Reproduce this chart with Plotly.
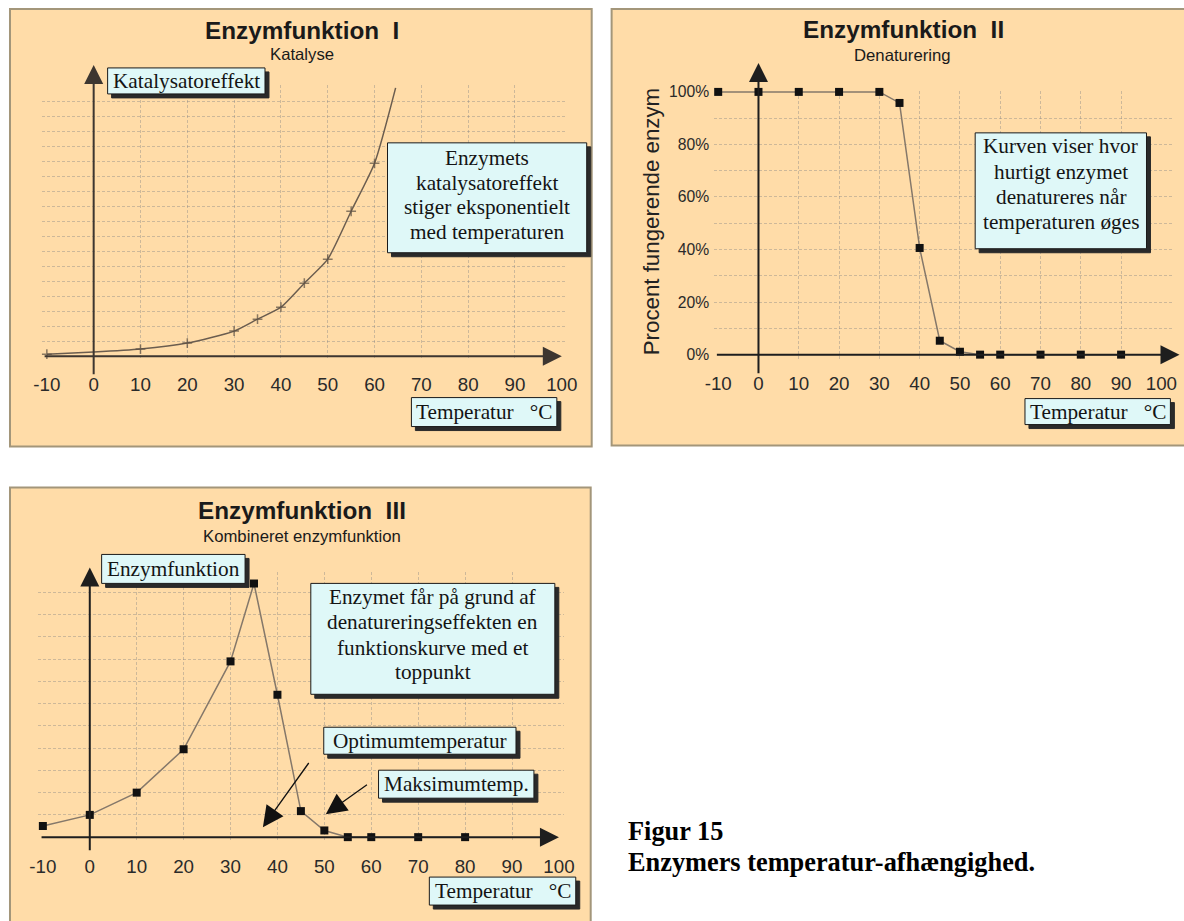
import plotly.graph_objects as go

W, H = 1184, 921

# ---------------- data ----------------
x_ticks = [-10, 0, 10, 20, 30, 40, 50, 60, 70, 80, 90, 100]
x_ticktext = ["-10", "0", "10", "20", "30", "40", "50", "60", "70", "80", "90", "100"]
x_grid = [10, 20, 30, 40, 50, 60, 70, 80, 90]

# Panel I – Katalyse (relative units)
temp_kat = [-10, 0, 10, 20, 30, 35, 40, 45, 50, 55, 60, 64.5]
katalyse = [0.13, 0.27, 0.47, 0.87, 1.67, 2.47, 3.27, 4.87, 6.47, 9.67, 12.87, 17.9]
kat_marker = [7, 0, 7, 7, 7, 7, 7, 7, 7, 7, 7, 0]
kat_grid = list(range(1, 18))

# Panel II – Denaturering (% fungerende enzym)
temp_den = [-10, 0, 10, 20, 30, 35, 40, 45, 50, 55, 60, 70, 80, 90]
procent = [100, 100, 100, 100, 100, 95.8, 40.6, 5.3, 1.1, 0, 0, 0, 0, 0]
pct_ticks = [0, 20, 40, 60, 80, 100]
pct_ticktext = ["0%", "20%", "40%", "60%", "80%", "100%"]
pct_grid = [10, 20, 30, 40, 50, 60, 70, 80, 90]

# Panel III – Kombineret enzymfunktion (relative units)
temp_komb = [-10, 0, 10, 20, 30, 35, 40, 45, 50, 55, 60, 70, 80]
komb = [0.5, 1.0, 2.0, 3.95, 7.9, 11.4, 6.4, 1.17, 0.3, 0, 0, 0, 0]
komb_grid = list(range(1, 12))

# ---------------- helpers ----------------
# layout positions are given in reference-picture pixels and mapped to figure pixels
SX, OX = 0.987, 8.0
SY, OY = 0.988, 6.0
FS = 1 / SX  # font scale

def fx(x):
    return (x - OX) / SX

def fy(y):
    return (y - OY) / SY

def px(x):
    return fx(x) / W

def py(y):
    return 1 - fy(y) / H

PEACH = "#ffdca8"
FRAME = "#a3967a"
BOXBG = "#dff8f8"
GRID = "rgba(130,130,130,0.4)"
SANS = "Liberation Sans"
SERIF = "Liberation Serif"

fig = go.Figure()

fig.add_trace(go.Scatter(
    x=temp_kat, y=katalyse, mode="lines+markers", xaxis="x", yaxis="y",
    line=dict(color="#6b5d4f", width=1.5, shape="spline", smoothing=0.6),
    marker=dict(symbol="cross-thin", size=kat_marker, line=dict(color="#5a4e42", width=1.5)),
    cliponaxis=False, showlegend=False, hoverinfo="skip"))

fig.add_trace(go.Scatter(
    x=temp_den, y=procent, mode="lines+markers", xaxis="x2", yaxis="y2",
    line=dict(color="#85786a", width=1.5),
    marker=dict(symbol="square", size=8, color="#111111"),
    cliponaxis=False, showlegend=False, hoverinfo="skip"))

fig.add_trace(go.Scatter(
    x=temp_komb, y=komb, mode="lines+markers", xaxis="x3", yaxis="y3",
    line=dict(color="#85786a", width=1.5),
    marker=dict(symbol="square", size=8, color="#111111"),
    cliponaxis=False, showlegend=False, hoverinfo="skip"))

# ---------------- axes ----------------
def xaxis_def(dom, rng, anchor):
    return dict(domain=dom, range=rng, anchor=anchor, showline=False, zeroline=False,
                showgrid=False, tickmode="array", tickvals=x_ticks, ticktext=x_ticktext,
                ticks="", ticklabelstandoff=12,
                tickfont=dict(family=SANS, size=18.5 * FS, color="#2a2a2a"),
                minor=dict(tickmode="array", tickvals=x_grid, showgrid=True,
                           gridcolor=GRID, griddash="3px,2px", gridwidth=1, ticks=""),
                fixedrange=True)

def yaxis_def(dom, rng, anchor, grid):
    return dict(domain=dom, range=rng, anchor=anchor, showline=False, zeroline=False,
                showgrid=False, ticks="", showticklabels=False,
                minor=dict(tickmode="array", tickvals=grid, showgrid=True,
                           gridcolor=GRID, griddash="3px,2px", gridwidth=1, ticks=""),
                fixedrange=True)

# Panel I geometry: -10 -> 46px, 4.7 px/unit ; y0 -> 355.5px, 15 px/unit
p1x = [-11, 101]
p1xd = [px(46 + (p1x[0] + 10) * 4.7), px(46 + (p1x[1] + 10) * 4.7)]
p1y = [-0.2, 18.1]
p1yd = [py(355.5 - p1y[0] * 15), py(355.5 - p1y[1] * 15)]

# Panel II geometry: -10 -> 720px, 4.045 px/unit ; 0% -> 354px, 2.63 px/%
p2x = [-11, 102.6]
p2xd = [px(720 + (p2x[0] + 10) * 4.045), px(720 + (p2x[1] + 10) * 4.045)]
p2y = [-1.5, 100.5]
p2yd = [py(354 - p2y[0] * 2.63), py(354 - p2y[1] * 2.63)]

# Panel III geometry: -10 -> 42px, 4.71 px/unit ; y0 -> 837px, 22.27 px/unit
p3x = [-11, 101]
p3xd = [px(42 + (p3x[0] + 10) * 4.71), px(42 + (p3x[1] + 10) * 4.71)]
p3y = [-0.2, 11.9]
p3yd = [py(837 - p3y[0] * 22.27), py(837 - p3y[1] * 22.27)]

y2 = yaxis_def(p2yd, p2y, "x2", pct_grid)
y2.update(showticklabels=True, tickmode="array", tickvals=pct_ticks, ticktext=pct_ticktext,
          ticklabelstandoff=4, tickfont=dict(family=SANS, size=15.5 * FS, color="#2a2a2a"))

fig.update_layout(
    xaxis=xaxis_def(p1xd, p1x, "y"),
    yaxis=yaxis_def(p1yd, p1y, "x", kat_grid),
    xaxis2=xaxis_def(p2xd, p2x, "y2"),
    yaxis2=y2,
    xaxis3=xaxis_def(p3xd, p3x, "y3"),
    yaxis3=yaxis_def(p3yd, p3y, "x3", komb_grid),
)

# ---------------- panel backgrounds ----------------
shapes = []
for (x0, y0, x1, y1) in [(9, 8, 593, 446), (613, 8, 1195, 445), (9, 487, 592, 935)]:
    shapes.append(dict(type="rect", xref="paper", yref="paper", layer="below",
                       x0=px(x0), y0=py(y0), x1=px(x1), y1=py(y1),
                       fillcolor=PEACH, line=dict(color=FRAME, width=2)))

ann = []

def text(t, x, y, size, bold=False, family=SANS, xanchor="center", color="#1a1a1a", angle=0):
    ann.append(dict(text=t, x=px(x), y=py(y), xref="paper", yref="paper", showarrow=False,
                    xanchor=xanchor, yanchor="middle", textangle=angle,
                    font=dict(family=family, size=size * FS, color=color,
                              weight="bold" if bold else "normal")))

def box(lines, x0, y0, x1, y1, size, line_y=None):
    shapes.append(dict(type="rect", xref="paper", yref="paper", layer="above",
                       x0=px(x0 + 4), y0=py(y0 + 4), x1=px(x1 + 4), y1=py(y1 + 4),
                       fillcolor="#2a2a2a", line=dict(color="#2a2a2a", width=1)))
    shapes.append(dict(type="rect", xref="paper", yref="paper", layer="above",
                       x0=px(x0), y0=py(y0), x1=px(x1), y1=py(y1),
                       fillcolor=BOXBG, line=dict(color="#1a1a1a", width=1)))
    if line_y is None:
        line_y = [(y0 + y1) / 2]
    for t, yy in zip(lines, line_y):
        text(t, (x0 + x1) / 2, yy, size, family=SERIF, color="#141414")

def xarrow(xr, yr, tail, head, color):
    ann.append(dict(x=head, y=0, xref=xr, yref=yr, ax=tail, ay=0, axref=xr, ayref=yr,
                    text="", showarrow=True, arrowhead=2, arrowsize=1.9, arrowwidth=2,
                    arrowcolor=color, standoff=0))

def yarrow(xr, top_px, bottom_px, color):
    ann.append(dict(x=0, y=py(top_px), xref=xr, yref="paper", ax=0,
                    ay=fy(bottom_px) - fy(top_px),
                    axref="pixel", ayref="pixel", text="", showarrow=True, arrowhead=2,
                    arrowsize=1.9, arrowwidth=2, arrowcolor=color, standoff=0))

NBSP = "\u00a0"
TEMP = "Temperatur" + NBSP * 3 + "°C"

# Panel I
text("Enzymfunktion" + NBSP * 2 + "I", 302, 30, 24, bold=True)
text("Katalyse", 302, 54, 16.5)
xarrow("x", "y", -10.8, 100, "#3d3630")
yarrow("x", 64, 371, "#3d3630")
box(["Katalysatoreffekt"], 107, 67, 265, 93, 21)
box(["Enzymets", "katalysatoreffekt", "stiger eksponentielt", "med temperaturen"],
    388, 142, 588, 252, 21, [157, 182, 206, 231])
box([TEMP], 412, 397, 558, 426, 21)

# Panel II
text("Enzymfunktion" + NBSP * 2 + "II", 906, 29, 24, bold=True)
text("Denaturering", 905, 55, 16.5)
text("Procent fungerende enzym", 653, 221, 22, color="#222222", angle=-90)
xarrow("x2", "y2", -10.7, 104.5, "#1e1e1e")
yarrow("x2", 62, 370, "#1e1e1e")
box(["Kurven viser hvor", "hurtigt enzymet", "denatureres når", "temperaturen øges"],
    978, 132, 1150, 248, 21, [145, 171, 196, 221])
box([TEMP], 1028, 398, 1174, 424, 21)

# Panel III
text("Enzymfunktion" + NBSP * 2 + "III", 302, 510, 24, bold=True)
text("Kombineret enzymfunktion", 302, 536, 16.5)
xarrow("x3", "y3", -10.6, 100, "#1e1e1e")
yarrow("x3", 567, 848, "#1e1e1e")
box(["Enzymfunktion"], 101, 554, 245, 583, 21)
box(["Enzymet får på grund af", "denatureringseffekten en", "funktionskurve med et", "toppunkt"],
    311, 583, 556, 694, 21, [597, 622, 648, 672])
box(["Optimumtemperatur"], 324, 727, 517, 754, 21)
box(["Maksimumtemp."], 379, 770, 535, 798, 21)
box([TEMP], 430, 877, 577, 905, 21)
ann.append(dict(x=36.9, y=0.45, ax=46.9, ay=3.4, xref="x3", yref="y3", axref="x3", ayref="y3",
                text="", showarrow=True, arrowhead=2, arrowsize=3.2, arrowwidth=1.3,
                arrowcolor="#111111", standoff=0))
ann.append(dict(x=50.3, y=1.03, ax=59.4, ay=2.4, xref="x3", yref="y3", axref="x3", ayref="y3",
                text="", showarrow=True, arrowhead=2, arrowsize=3.2, arrowwidth=1.3,
                arrowcolor="#111111", standoff=0))

# Caption
text("Figur 15", 627, 831, 26, bold=True, family=SERIF, xanchor="left", color="#000000")
text("Enzymers temperatur-afhængighed.", 627, 862, 26, bold=True, family=SERIF, xanchor="left",
     color="#000000")

fig.update_layout(width=W, height=H, margin=dict(l=0, r=0, t=0, b=0),
                  paper_bgcolor="white", plot_bgcolor="rgba(0,0,0,0)",
                  shapes=shapes, annotations=ann, showlegend=False)

# remove the default 8px page margin so the figure fills the 1184x921 window exactly
fig.write_html("out.html", config={"displayModeBar": False},
               post_script="document.body.style.margin='0px';")
